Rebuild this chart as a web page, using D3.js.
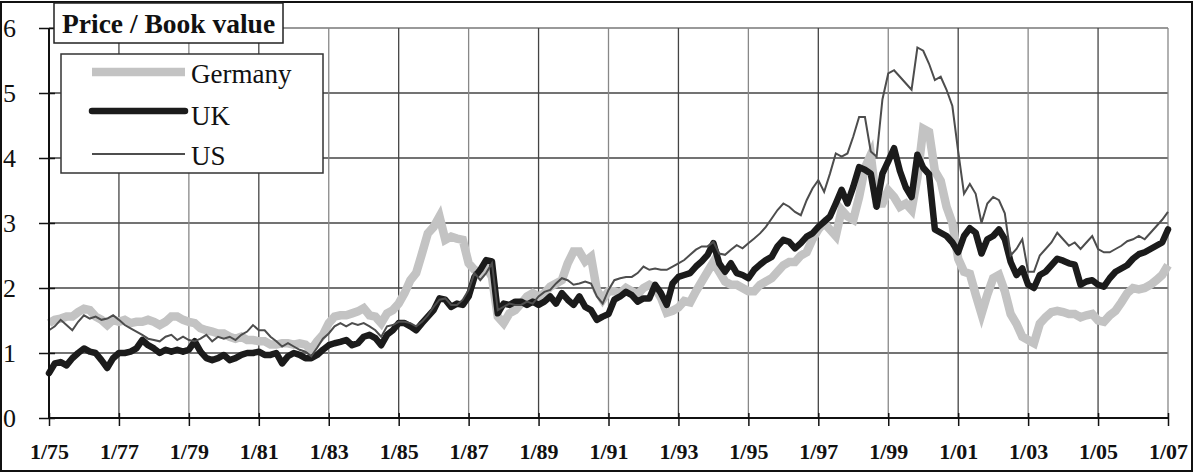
<!DOCTYPE html>
<html>
<head>
<meta charset="utf-8">
<script src="https://cdn.jsdelivr.net/npm/d3@7"></script>
<style>
  html, body { margin: 0; padding: 0; background: #fff; }
  svg { display: block; font-family: "Liberation Serif", "Times New Roman", serif; }
</style>
</head>
<body>
<svg id="chart" width="1196" height="473"></svg>
<script>
// bimonthly observations, first one is January 1975, last one January 2007
var firstYear = 1975;
var stepsPerYear = 6;

var germany = [
  1.46, 1.51, 1.53, 1.56, 1.56, 1.63,
  1.68, 1.66, 1.56, 1.51, 1.43, 1.51,
  1.48, 1.51, 1.46, 1.48, 1.48, 1.51,
  1.48, 1.43, 1.48, 1.56, 1.56, 1.51,
  1.48, 1.46, 1.38, 1.35, 1.33, 1.30,
  1.30, 1.25, 1.22, 1.25, 1.20, 1.20,
  1.18, 1.18, 1.13, 1.13, 1.15, 1.15,
  1.13, 1.15, 1.13, 1.05, 1.18, 1.28,
  1.46, 1.56, 1.58, 1.58, 1.61, 1.64,
  1.69, 1.58, 1.56, 1.46, 1.61, 1.66,
  1.76, 1.92, 2.12, 2.23, 2.53, 2.84,
  2.94, 3.10, 2.74, 2.79, 2.76, 2.74,
  2.38, 2.28, 2.23, 2.33, 2.17, 1.56,
  1.46, 1.61, 1.66, 1.76, 1.87, 1.92,
  1.87, 1.92, 2.02, 2.07, 2.12, 2.38,
  2.56, 2.56, 2.41, 2.48, 1.97, 1.82,
  1.95, 1.95, 1.92, 2.00, 1.95, 1.90,
  2.00, 2.05, 2.00, 1.85, 1.62, 1.65,
  1.70, 1.80, 1.78, 1.95, 2.10, 2.25,
  2.40, 2.25, 2.10, 2.05, 2.05, 2.00,
  1.95, 1.95, 2.05, 2.10, 2.15, 2.25,
  2.35, 2.40, 2.40, 2.50, 2.55, 2.75,
  2.90, 3.00, 2.90, 2.80, 3.20, 3.10,
  3.05, 3.40, 3.85, 4.05, 3.30, 3.30,
  3.50, 3.40, 3.25, 3.30, 3.20, 3.70,
  4.45, 4.40, 3.80, 3.65, 3.25, 3.00,
  2.45, 2.25, 2.22, 1.90, 1.60, 1.90,
  2.15, 2.20, 1.95, 1.60, 1.45, 1.25,
  1.20, 1.15, 1.45, 1.55, 1.63, 1.65,
  1.63, 1.60, 1.60, 1.55, 1.58, 1.60,
  1.50, 1.48, 1.58, 1.65, 1.78, 1.92,
  2.00, 1.98, 2.00, 2.05, 2.12, 2.20,
  2.35
];

var uk = [
  0.69, 0.84, 0.86, 0.81, 0.92, 1.00,
  1.07, 1.02, 1.00, 0.89, 0.77, 0.92,
  1.00, 1.00, 1.02, 1.07, 1.20, 1.12,
  1.07, 1.00, 1.05, 1.02, 1.05, 1.02,
  1.05, 1.18, 1.02, 0.92, 0.89, 0.92,
  0.97, 0.89, 0.92, 0.97, 1.00, 1.00,
  1.02, 0.97, 0.97, 1.00, 0.84, 0.95,
  1.00, 0.97, 0.92, 0.92, 0.97, 1.05,
  1.12, 1.15, 1.17, 1.20, 1.12, 1.15,
  1.25, 1.28, 1.23, 1.12, 1.28, 1.35,
  1.46, 1.46, 1.41, 1.35, 1.46, 1.56,
  1.66, 1.84, 1.82, 1.71, 1.76, 1.74,
  1.87, 2.17, 2.28, 2.43, 2.41, 1.61,
  1.76, 1.74, 1.79, 1.79, 1.74, 1.79,
  1.74, 1.79, 1.87, 1.76, 1.92, 1.82,
  1.74, 1.87, 1.71, 1.66, 1.51, 1.56,
  1.60, 1.82, 1.87, 1.94, 1.89, 1.79,
  1.84, 1.84, 2.05, 1.92, 1.74, 2.07,
  2.17, 2.20, 2.23, 2.33, 2.41, 2.51,
  2.69, 2.38, 2.25, 2.38, 2.23, 2.20,
  2.15, 2.28, 2.36, 2.43, 2.48, 2.64,
  2.74, 2.71, 2.61, 2.69, 2.79, 2.84,
  2.94, 3.02, 3.10, 3.30, 3.51, 3.30,
  3.56, 3.86, 3.82, 3.76, 3.25, 3.76,
  3.95, 4.15, 3.80, 3.55, 3.40, 4.05,
  3.85, 3.75, 2.90, 2.85, 2.80, 2.70,
  2.55, 2.80, 2.92, 2.85, 2.53, 2.75,
  2.80, 2.90, 2.75, 2.40, 2.20, 2.30,
  2.05, 2.00, 2.20, 2.25, 2.35, 2.45,
  2.42, 2.38, 2.36, 2.05, 2.10, 2.12,
  2.05, 2.02, 2.15, 2.25, 2.30, 2.35,
  2.45, 2.52, 2.55, 2.60, 2.65, 2.70,
  2.90
];

var us = [
  1.35, 1.41, 1.51, 1.43, 1.35, 1.48,
  1.58, 1.53, 1.56, 1.51, 1.53, 1.58,
  1.51, 1.43, 1.38, 1.33, 1.28, 1.22,
  1.20, 1.18, 1.25, 1.28, 1.20, 1.25,
  1.20, 1.18, 1.22, 1.28, 1.18, 1.25,
  1.22, 1.25, 1.20, 1.28, 1.33, 1.43,
  1.35, 1.35, 1.25, 1.18, 1.10, 1.15,
  1.10, 1.05, 1.02, 0.95, 1.08, 1.22,
  1.30, 1.41, 1.46, 1.41, 1.46, 1.43,
  1.46, 1.41, 1.35, 1.25, 1.41, 1.43,
  1.48, 1.48, 1.46, 1.41, 1.48, 1.58,
  1.71, 1.82, 1.84, 1.74, 1.74, 1.82,
  1.97, 2.23, 2.12, 2.23, 2.38, 1.66,
  1.71, 1.76, 1.74, 1.74, 1.79, 1.76,
  1.87, 1.94, 1.97, 2.07, 2.15, 2.12,
  2.05, 2.07, 2.10, 2.07, 1.87, 1.76,
  1.97, 2.12, 2.15, 2.17, 2.17, 2.23,
  2.33, 2.28, 2.30, 2.28, 2.28, 2.33,
  2.38, 2.43, 2.51, 2.59, 2.64, 2.64,
  2.71, 2.53, 2.51, 2.59, 2.66, 2.61,
  2.69, 2.76, 2.84, 2.94, 3.07, 3.20,
  3.30, 3.25, 3.17, 3.12, 3.35, 3.53,
  3.66, 3.48, 3.76, 4.07, 4.02, 4.07,
  4.33, 4.63, 4.63, 4.10, 4.02, 4.90,
  5.30, 5.35, 5.25, 5.15, 5.05, 5.70,
  5.65, 5.45, 5.20, 5.25, 5.05, 4.80,
  4.10, 3.45, 3.60, 3.45, 3.00, 3.30,
  3.40, 3.35, 3.15, 2.50, 2.60, 2.75,
  2.25, 2.25, 2.50, 2.60, 2.70, 2.85,
  2.75, 2.65, 2.70, 2.60, 2.70, 2.80,
  2.60, 2.55, 2.55, 2.60, 2.65, 2.72,
  2.75, 2.80, 2.75, 2.85, 2.95, 3.05,
  3.17
];

var tickYears = [1975, 1977, 1979, 1981, 1983, 1985, 1987, 1989, 1991,
                 1993, 1995, 1997, 1999, 2001, 2003, 2005, 2007];
var tickLabels = ["1/75", "1/77", "1/79", "1/81", "1/83", "1/85", "1/87", "1/89", "1/91",
                  "1/93", "1/95", "1/97", "1/99", "1/01", "1/03", "1/05", "1/07"];
var yTicks = [0, 1, 2, 3, 4, 5, 6];

var seriesNames = ["Germany", "UK", "US"];

var serif = "'Liberation Serif', 'Times New Roman', serif";
var svg = d3.select("#chart");

// outer frame round the whole picture
svg.append("rect")
  .attr("x", 1).attr("y", 2)
  .attr("width", 1191).attr("height", 469)
  .attr("fill", "none")
  .attr("stroke", "#111")
  .attr("stroke-width", 2);

var x = d3.scaleLinear().domain([1975, 2007]).range([49, 1168]);
var y = d3.scaleLinear().domain([0, 6]).range([418, 28]);

// grid
svg.append("g")
  .selectAll("line.hgrid")
  .data(yTicks.slice(1))
  .join("line")
  .attr("x1", x(1975)).attr("x2", x(2007))
  .attr("y1", function (d) { return y(d); })
  .attr("y2", function (d) { return y(d); })
  .attr("stroke", function (d) { return d === 6 ? "#777" : "#444"; })
  .attr("stroke-width", 1.3);

svg.append("g")
  .selectAll("line.vgrid")
  .data(tickYears.slice(1))
  .join("line")
  .attr("x1", function (d) { return x(d); })
  .attr("x2", function (d) { return x(d); })
  .attr("y1", y(6)).attr("y2", y(0))
  .attr("stroke", function (d, i) { return i % 2 === 0 ? "#444" : "#888"; })
  .attr("stroke-width", 1.3);

// series
var line = d3.line()
  .x(function (d, i) { return x(firstYear + i / stepsPerYear); })
  .y(function (d) { return y(d); });

svg.append("path")
  .datum(germany)
  .attr("d", line)
  .attr("fill", "none")
  .attr("stroke", "#c3c3c3")
  .attr("stroke-width", 8.5)
  .attr("stroke-linejoin", "miter");

svg.append("path")
  .datum(uk)
  .attr("d", line)
  .attr("fill", "none")
  .attr("stroke", "#1b1b1b")
  .attr("stroke-width", 6.5)
  .attr("stroke-linejoin", "round")
  .attr("stroke-linecap", "round");

svg.append("path")
  .datum(us)
  .attr("d", line)
  .attr("fill", "none")
  .attr("stroke", "#4d4d4d")
  .attr("stroke-width", 2);

// axes
var yAxis = d3.axisLeft(y)
  .tickValues(yTicks)
  .tickSize(10)
  .tickFormat(d3.format("d"));

var gy = svg.append("g")
  .attr("transform", "translate(" + x(1975) + ",0)")
  .attr("font-family", serif)
  .call(yAxis);
gy.attr("font-family", serif).attr("font-size", 26);
gy.select(".domain").remove();
gy.selectAll(".tick line")
  .attr("x1", 6)
  .attr("stroke", "#111")
  .attr("stroke-width", 1.5);
gy.selectAll(".tick text")
  .attr("x", -46)
  .attr("dy", "0.34em")
  .attr("text-anchor", "start")
  .attr("fill", "#111");

var xAxis = d3.axisBottom(x)
  .tickValues(tickYears)
  .tickSize(8)
  .tickFormat(function (d, i) { return tickLabels[i]; });

var gx = svg.append("g")
  .attr("transform", "translate(0," + y(0) + ")")
  .call(xAxis);
gx.attr("font-family", serif).attr("font-size", 22).attr("font-weight", "bold");
gx.select(".domain").remove();
gx.selectAll(".tick line")
  .attr("y1", -5)
  .attr("stroke", "#111")
  .attr("stroke-width", 1.5);
gx.selectAll(".tick text")
  .attr("y", 41)
  .attr("dy", 0)
  .attr("fill", "#111");

// axis lines
svg.append("line")
  .attr("x1", x(1975)).attr("x2", x(1975))
  .attr("y1", y(6)).attr("y2", y(0))
  .attr("stroke", "#111").attr("stroke-width", 2);
svg.append("line")
  .attr("x1", x(1975)).attr("x2", x(2007))
  .attr("y1", y(0)).attr("y2", y(0))
  .attr("stroke", "#111").attr("stroke-width", 2);

// title box
svg.append("rect")
  .attr("x", 54).attr("y", 3)
  .attr("width", 229).attr("height", 40)
  .attr("fill", "#fff")
  .attr("stroke", "#222")
  .attr("stroke-width", 1.5);
svg.append("text")
  .attr("x", 62).attr("y", 33)
  .attr("fill", "#111")
  .attr("font-family", serif)
  .style("font-size", "27.5px")
  .style("font-weight", "bold")
  .text("Price / Book value");

// legend
var legend = svg.append("g");
legend.append("rect")
  .attr("x", 61).attr("y", 54)
  .attr("width", 262).attr("height", 119)
  .attr("fill", "#fff")
  .attr("stroke", "#333")
  .attr("stroke-width", 1.5);

var legendStyle = [
  { color: "#c3c3c3", width: 8.5, cap: "butt", y: 72, base: 83 },
  { color: "#1b1b1b", width: 6.5, cap: "round", y: 111, base: 125 },
  { color: "#4d4d4d", width: 2, cap: "butt", y: 154, base: 165 }
];

seriesNames.forEach(function (name, i) {
  var s = legendStyle[i];
  legend.append("line")
    .attr("x1", 92).attr("x2", 185)
    .attr("y1", s.y).attr("y2", s.y)
    .attr("stroke", s.color)
    .attr("stroke-width", s.width)
    .attr("stroke-linecap", s.cap);
  legend.append("text")
    .attr("x", 191).attr("y", s.base)
    .attr("fill", "#111")
    .attr("font-family", serif)
    .style("font-size", "27px")
    .text(name);
});
</script>
</body>
</html>
